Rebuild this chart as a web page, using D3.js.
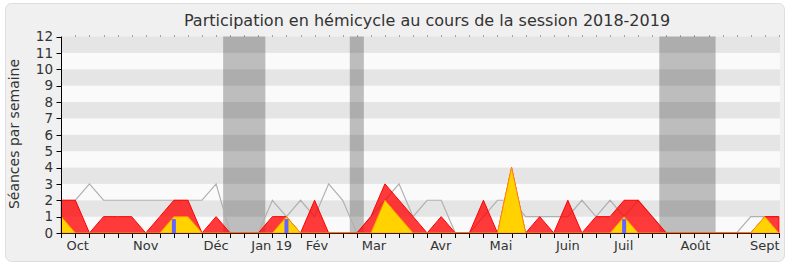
<!DOCTYPE html>
<html><head><meta charset="utf-8">
<script src="https://cdn.jsdelivr.net/npm/d3@7"></script>
<style>body{margin:0;background:#fff;}svg{display:block;font-family:"DejaVu Sans",Verdana,sans-serif;}</style>
</head><body><svg id="c" width="790" height="267"></svg>
<script>
const title = "Participation en hémicycle au cours de la session 2018-2019";
const yTitle = "Séances par semaine";
const weeks = d3.range(52);
const presence = [2,2,0,1,1,1,0,1,2,2,0,1,0,0,0,1,1,0,2,0,0,0,1,3,2,1,0,1,0,0,2,0,4,0,1,0,2,0,1,1,2,2,1,0,0,0,0,0,0,0,1,1];
const interventions = [1,0,0,0,0,0,0,0,1,1,0,0,0,0,0,0,1,0,0,0,0,0,0,2,1,0,0,0,0,0,0,0,4,0,0,0,0,0,0,0,1,0,0,0,0,0,0,0,0,0,1,0];
const questions = [0,0,0,0,0,0,0,0,1,0,0,0,0,0,0,0,1,0,0,0,0,0,0,0,0,0,0,0,0,0,0,0,0,0,0,0,0,0,0,0,1,0,0,0,0,0,0,0,0,0,0,0];
const median = [2,2,3,2,2,2,2,2,2,2,2,3,0,0,0,2,1,2,1,3,2,0,1,2,3,1,2,2,0,0,1,2,2,1,1,1,1,2,1,2,1,2,1,0,0,0,0,0,0,1,1,1];
const vacations = [[11.5,14.5],[20.5,21.5],[42.5,46.5]];
const monthLabels = ["Oct","Nov","Déc","Jan 19","Fév","Mar","Avr","Mai","Juin","Juil","Août","Sept"];
const monthPos = [1.16,6.0,11.0,14.95,18.17,22.22,26.97,31.24,36.0,39.97,45.07,50.0];
const yTicks = d3.range(0,13);

const svg = d3.select("#c");
const x = d3.scaleLinear().domain([0,51]).range([61.33,778.9]);
const y = d3.scaleLinear().domain([0,12]).range([233,36.5]);
const xL = 61.5, xR = 780;

svg.append("rect").attr("x",5.5).attr("y",3.5).attr("width",779).attr("height",258).attr("rx",6)
  .attr("fill","#f0f0f0").attr("stroke","#dedede");

svg.append("text").attr("x",427).attr("y",26).attr("text-anchor","middle")
  .attr("font-size",16).attr("fill","#333").text(title);

// bands
svg.append("g").selectAll("rect").data(d3.range(0,12)).join("rect")
  .attr("x",xL).attr("width",xR-xL)
  .attr("y",d=>y(d+1)).attr("height",d=>y(d)-y(d+1))
  .attr("fill",d=>d%2===1?"#e5e5e5":"#fafafa");

// vacations
svg.append("g").selectAll("rect").data(vacations).join("rect")
  .attr("x",d=>x(d[0])).attr("width",d=>x(d[1])-x(d[0]))
  .attr("y",y(12)).attr("height",y(0)-y(12))
  .attr("fill","#000").attr("fill-opacity",0.245);

// gray line
svg.append("path").datum(weeks).attr("fill","none").attr("stroke","#b0b0b0").attr("stroke-width",1.2)
  .attr("d",d3.line().x(i=>x(i)).y(i=>y(median[i])));

const area = arr => d3.area().x(i=>x(i)).y0(y(0)).y1(i=>y(arr[i]));
svg.append("path").datum(weeks).attr("fill","#ff0000").attr("fill-opacity",0.77)
  .attr("stroke","#ff0000").attr("stroke-width",1).attr("d",area(presence));
svg.append("path").datum(weeks).attr("fill","#ffd200")
  .attr("stroke","#ff9900").attr("stroke-width",0.8).attr("d",area(interventions));

svg.append("g").selectAll("rect").data(weeks.filter(i=>questions[i]>0)).join("rect")
  .attr("x",i=>x(i)-2).attr("width",4)
  .attr("y",i=>y(questions[i])+2.5).attr("height",i=>y(0)-y(questions[i])-2.5)
  .attr("fill","#6464ff");

// axes
const ax = svg.append("g").attr("stroke","#000");
ax.append("line").attr("x1",xL-0.5).attr("x2",xR).attr("y1",y(0)+0.5).attr("y2",y(0)+0.5).attr("stroke","#3a1a1a");
ax.append("line").attr("x1",61.5).attr("x2",61.5).attr("y1",y(12)).attr("y2",y(0)+1);
ax.selectAll(".yt").data(yTicks).join("line").attr("x1",56.5).attr("x2",61.5)
  .attr("y1",d=>Math.round(y(d))+0.5).attr("y2",d=>Math.round(y(d))+0.5);
ax.selectAll(".xt").data(weeks).join("line").attr("x1",i=>Math.round(x(i))+0.5).attr("x2",i=>Math.round(x(i))+0.5)
  .attr("y1",y(0)+1).attr("y2",y(0)+5);
ax.selectAll(".xtt").data(weeks.slice(1)).join("line").attr("x1",i=>Math.round(x(i))+0.5).attr("x2",i=>Math.round(x(i))+0.5)
  .attr("y1",35.5).attr("y2",36.5).attr("stroke","#555");

svg.append("g").selectAll("text").data(yTicks).join("text")
  .attr("x",53).attr("y",d=>y(d)).attr("dy","0.36em").attr("text-anchor","end")
  .attr("font-size",13.5).attr("fill","#333").text(d=>d);

svg.append("g").selectAll("text").data(monthLabels).join("text")
  .attr("x",(d,i)=>x(monthPos[i])).attr("y",250).attr("text-anchor","middle")
  .attr("font-size",13).attr("fill","#333").text(d=>d);

svg.append("text").attr("transform","translate(19,134) rotate(-90)").attr("text-anchor","middle")
  .attr("font-size",14).attr("fill","#333").text(yTitle);
</script></body></html>
